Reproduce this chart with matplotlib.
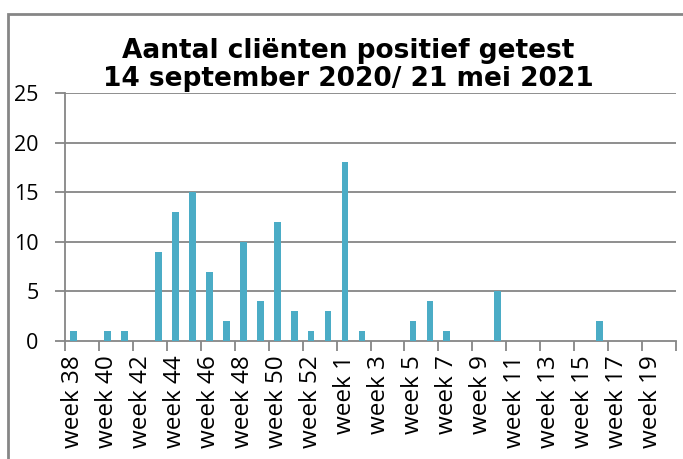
import matplotlib.pyplot as plt
from matplotlib.patches import Rectangle

# weeks 38-53 of 2020, then weeks 1-20 of 2021
weeks = list(range(38, 54)) + list(range(1, 21))
counts = [1, 0, 1, 1, 0, 9, 13, 15, 7, 2, 10, 4, 12, 3, 1, 3,
          18, 1, 0, 0, 2, 4, 1, 0, 0, 5, 0, 0, 0, 0, 0, 2, 0, 0, 0, 0]
labels = ['week %d' % w for w in weeks]

bar_color = '#4BACC6'
grey = '#868686'

fig = plt.figure(figsize=(6.83, 4.59), dpi=100)
ax = fig.add_axes([65 / 683, 1 - 341 / 459, 611 / 683, 248 / 459])

x = list(range(len(weeks)))
ax.bar(x, counts, width=0.4, color=bar_color, zorder=3)

ax.set_xlim(-0.5, len(weeks) - 0.5)
ax.set_ylim(0, 25)
ax.set_yticks([0, 5, 10, 15, 20, 25])
for y in [5, 10, 15, 20, 25]:
    ax.axhline(y, color=grey, lw=1.3, zorder=1)

# labels on every other category, tick marks between categories
ax.set_xticks(x[::2])
ax.set_xticklabels(labels[::2], rotation=90, family='Open Sans', fontsize=17.5)
ax.set_xticks([i - 0.5 for i in range(0, len(weeks) + 1, 2)], minor=True)
ax.tick_params(axis='x', which='major', length=0, pad=10)
ax.tick_params(axis='x', which='minor', length=7, color=grey, width=1.3)
ax.tick_params(axis='y', length=7, color=grey, width=1.3, pad=12)
for t in ax.get_yticklabels():
    t.set_family('Open Sans')
    t.set_fontsize(15.5)

for s in ['top', 'right']:
    ax.spines[s].set_visible(False)
ax.spines['left'].set_color(grey)
ax.spines['bottom'].set_color(grey)
ax.spines['left'].set_linewidth(1.3)
ax.spines['bottom'].set_linewidth(1.3)

fig.text(348 / 683, 1 - 65 / 459, 'Aantal cliënten positief getest\n14 september 2020/ 21 mei 2021',
         ha='center', va='center', fontsize=19, fontweight='bold',
         family='DejaVu Sans', linespacing=1.15)

# chart area border
fig.patches.append(Rectangle((8 / 683, -0.1), 1.1, 1.1 - 14 / 459, transform=fig.transFigure,
                             fill=False, edgecolor=grey, lw=2))

fig.savefig('out.png', dpi=100)
